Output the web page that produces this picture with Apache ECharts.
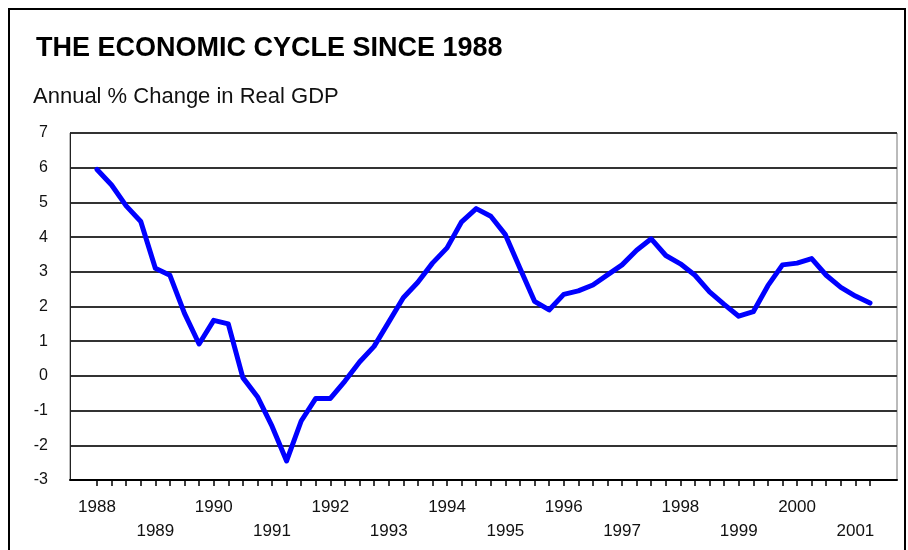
<!DOCTYPE html>
<html>
<head>
<meta charset="utf-8">
<script src="https://cdn.jsdelivr.net/npm/echarts@6/dist/echarts.min.js"></script>
<style>html,body{margin:0;padding:0;background:#fff;}#c{width:908px;height:550px;}</style>
</head>
<body>
<div id="c"></div>
<script>
// Quarterly periods 1988 Q1 .. 2001 Q2
var years = [1988,1989,1990,1991,1992,1993,1994,1995,1996,1997,1998,1999,2000,2001];
var quarters = ['Q1','Q2','Q3','Q4'];
var gdpGrowth = [
  5.95, 5.5, 4.9, 4.45,   // 1988
  3.1, 2.9, 1.8, 0.92,    // 1989
  1.6, 1.5, -0.05, -0.6,  // 1990
  -1.45, -2.45, -1.3, -0.65, // 1991
  -0.65, -0.15, 0.4, 0.85,   // 1992
  1.55, 2.25, 2.7, 3.25,     // 1993
  3.69, 4.44, 4.82, 4.6,     // 1994
  4.07, 3.1, 2.15, 1.9,      // 1995
  2.35, 2.45, 2.62, 2.91,    // 1996
  3.2, 3.62, 3.95, 3.47,     // 1997
  3.23, 2.9, 2.42, 2.06,     // 1998
  1.72, 1.85, 2.6, 3.2,      // 1999
  3.25, 3.38, 2.9, 2.55,     // 2000
  2.3, 2.1                   // 2001
];
var yTicks = [-3,-2,-1,0,1,2,3,4,5,6,7];

var categories = [];
for (var i = 0; i < gdpGrowth.length; i++) {
  categories.push(years[Math.floor(i / 4)] + ' ' + quarters[i % 4]);
}

var chart = echarts.init(document.getElementById('c'));
var font = 'Liberation Sans, Arial, sans-serif';
chart.setOption({
  backgroundColor: '#ffffff',
  animation: false,
  title: [
    { text: 'THE ECONOMIC CYCLE SINCE 1988', left: 31, top: 30,
      textStyle: { fontFamily: font, fontSize: 27, fontWeight: 'bold', color: '#000' } },
    { text: 'Annual % Change in Real GDP', left: 28, top: 81,
      textStyle: { fontFamily: font, fontSize: 22, fontWeight: 'normal', color: '#111' } }
  ],
  graphic: [
    { type: 'rect', shape: { x: 9, y: 9, width: 896, height: 600 },
      style: { fill: 'none', stroke: '#000', lineWidth: 2 }, silent: true }
  ],
  grid: [
    { left: 70, top: 133, width: 827, height: 347, show: true, borderColor: '#777', borderWidth: 1, backgroundColor: 'transparent' },
    { left: 97, top: 133, width: 773, height: 347 }
  ],
  xAxis: [
    { type: 'value', gridIndex: 0, min: 0, max: 1,
      axisLine: { show: true, onZero: false, lineStyle: { color: '#000', width: 2 } },
      axisTick: { show: false }, axisLabel: { show: false }, splitLine: { show: false } },
    { type: 'category', gridIndex: 1, data: categories, boundaryGap: false,
      axisLine: { show: false, onZero: false },
      axisTick: { show: true, interval: 0, length: 6, lineStyle: { color: '#000', width: 1.5 } },
      axisLabel: {
        interval: function (idx) { return idx % 4 === 0; },
        formatter: function (v, idx) {
          var y = parseInt(v, 10);
          return (y % 2 === 0) ? String(y) : '\n' + y;
        },
        margin: 15, lineHeight: 24, fontFamily: font, fontSize: 17, color: '#111'
      },
      splitLine: { show: false } }
  ],
  yAxis: [
    { type: 'value', gridIndex: 0, min: yTicks[0], max: yTicks[yTicks.length - 1], interval: 1,
      axisLine: { show: true, lineStyle: { color: '#222', width: 1 } },
      axisTick: { show: false },
      axisLabel: { margin: 22, fontFamily: font, fontSize: 16, color: '#111' },
      splitLine: { show: true, lineStyle: { color: '#333', width: 2 } } },
    { type: 'value', gridIndex: 1, min: yTicks[0], max: yTicks[yTicks.length - 1], interval: 1,
      show: false, splitLine: { show: false } }
  ],
  series: [
    { type: 'line', xAxisIndex: 1, yAxisIndex: 1, data: gdpGrowth,
      showSymbol: false, symbol: 'none', smooth: false,
      lineStyle: { color: '#0000ff', width: 5, join: 'round', cap: 'round' } }
  ]
});
</script>
</body>
</html>
